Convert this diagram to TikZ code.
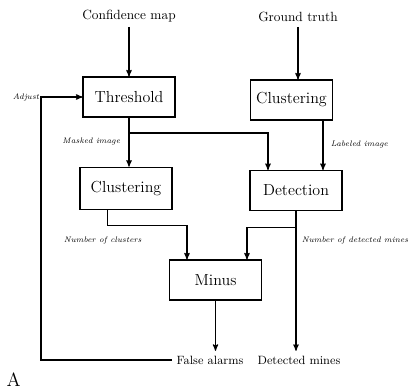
\documentclass[tikz,border=0pt]{standalone}
\usetikzlibrary{arrows}
\tikzstyle{block} = [rectangle, draw, thick, font=\large, minimum width=69pt, minimum height=30pt]
\tikzstyle{lbl} = [font=\fontsize{6}{7}\selectfont\itshape, inner sep=1pt]

\begin{document}
\begin{tikzpicture}[->,>=stealth',thick,x=0.75pt,y=-0.75pt]
  \useasboundingbox (0,0) rectangle (410,392);
  \node (conf) at (129,16) {Confidence map};
  \node (truth) at (298,17) {Ground truth};
  \node[block] (thresh) at (129,97) {Threshold};
  \node[block,minimum width=62pt] (clustR) at (291.5,100) {Clustering};
  \node[block,minimum height=32pt] (clustL) at (126,188.5) {Clustering};
  \node[block] (detect) at (296,190.5) {Detection};
  \node[block] (minus) at (215.5,280) {Minus};
  \node[lbl,anchor=east] (adjust) at (41,97) {Adjust};
  \node[lbl,anchor=east] (masked) at (122,142) {Masked image};
  \node[lbl,anchor=west] (labeled) at (329,145) {Labeled image};
  \node[lbl,anchor=west] (nclust) at (62,240) {Number of clusters};
  \node[lbl,anchor=west] (ndet) at (300,240) {Number of detected mines};
  \node[font=\small] (falsealarm) at (210,360) {False alarms};
  \node[font=\small] (detected) at (299,360) {Detected mines};
  \node[font=\Large,anchor=south west,inner sep=0pt] (panel) at (6,387) {A};
  \coordinate (split) at (129,133);

  \draw (conf) -- (thresh);
  \draw (truth.south) -- (truth.south |- clustR.north);
  \draw (thresh.south) -- (thresh.south |- clustL.north);
  \draw (split) -| ([xshift=-21pt]detect.north);
  \draw ([xshift=23.6pt]clustR.south) -- ([xshift=23.6pt]clustR.south |- detect.north);
  \draw ([xshift=-14pt]clustL.south) -- ++(0,15) -| ([xshift=-21.4pt]minus.north);
  \draw (detect.south) -- (detect.south |- detected.north);
  \draw ([yshift=-12pt]detect.south) -| ([xshift=23.6pt]minus.north);
  \draw (minus.south) -- (minus.south |- falsealarm.north);
  \draw (falsealarm.west) -| (adjust.east) -- (thresh.west); % feedback
\end{tikzpicture}
\end{document}
